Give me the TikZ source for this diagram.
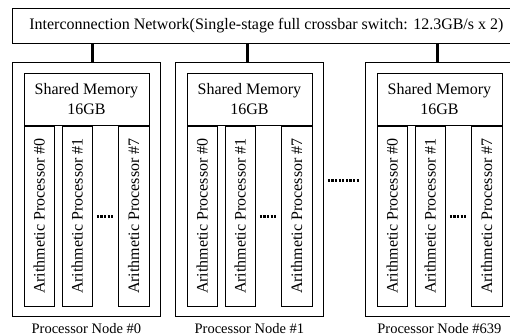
\documentclass[tikz,border=0pt]{standalone}
\usepackage{fontspec}
\setmainfont{Liberation Serif}

\begin{document}
\begin{tikzpicture}[x=1pt, y=-1pt,
  every node/.style = {font=\fontsize{16}{20}\selectfont, inner sep=0pt},
  frame/.style = {draw, line width=0.8pt},
  caption/.style = {font=\fontsize{14.5}{18}\selectfont, anchor=base},
  link/.style = {line width=2.4pt},
  more/.style = {line width=3pt, dash pattern=on 2.2pt off 1.4pt}]
  \useasboundingbox (0,0) rectangle (510,336);
  \clip (0,0) rectangle (510,336);
  \node[frame, anchor=north west, minimum width=508pt, minimum height=35pt] (net) at (12,8)
    {Interconnection Network(Single-stage full crossbar switch: 12.3GB/s x 2)};
  \foreach \name/\x/\shift/\num in {n0/12/6/0, n1/175/-2/1, n639/365/-2/639} {
    \node[frame, anchor=north west, minimum width=148pt, minimum height=254pt] (\name) at (\x,62) {};
    \node[frame, anchor=north, minimum width=125pt, minimum height=52pt, align=center]
      (\name-mem) at ([yshift=-11pt]\name.north) {Shared Memory\\16GB};
    \node[frame, anchor=north west, minimum width=30.5pt, minimum height=180pt]
      (\name-p0) at (\name-mem.south west) {\rotatebox{90}{Arithmetic Processor \#0}};
    \node[frame, anchor=north west, minimum width=30.5pt, minimum height=180pt]
      (\name-p1) at ([xshift=38pt]\name-mem.south west) {\rotatebox{90}{Arithmetic Processor \#1}};
    \node[frame, anchor=north east, minimum width=30.5pt, minimum height=180pt]
      (\name-p7) at (\name-mem.south east) {\rotatebox{90}{Arithmetic Processor \#7}};
    \draw[more] ([xshift=4pt]\name-p1.east) -- ([xshift=-4pt]\name-p7.west);
    \node[caption] (\name-label) at ([yshift=-17pt]\name.south) {Processor Node \#\num};
    % link to the network
    \draw[link] ([xshift=\shift pt]\name.north) -- ([xshift=\shift pt]\name.north |- net.south);
  }
  \draw[more] ([xshift=4pt, yshift=9pt]n1.east) -- ([xshift=-6pt, yshift=9pt]n639.west);
\end{tikzpicture}
\end{document}
